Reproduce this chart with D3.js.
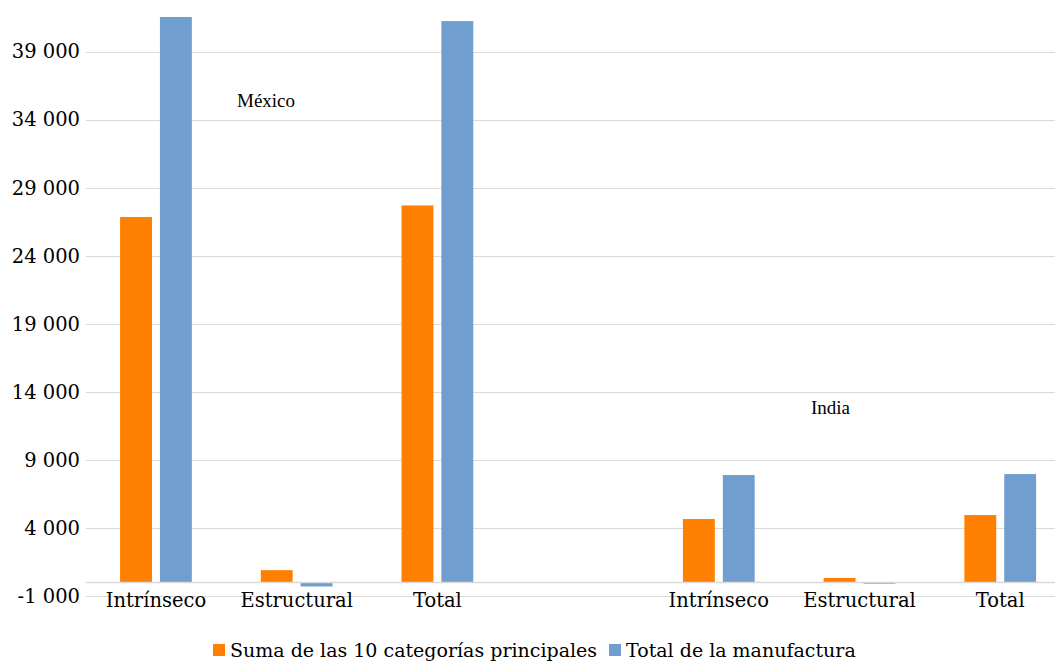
<!DOCTYPE html>
<html>
<head>
<meta charset="utf-8">
<script src="https://cdn.jsdelivr.net/npm/d3@7"></script>
<style>
  body { margin: 0; background: #fff; }
  svg { display: block; }
</style>
</head>
<body>
<div id="chart"></div>
<script>
// categories (the empty slot separates the two countries)
var categories = ["Intrínseco", "Estructural", "Total", "", "Intrínseco", "Estructural", "Total"];
var seriesNames = ["Suma de las 10 categorías principales", "Total de la manufactura"];
var sumaTop10 = [26850, 900, 27700, null, 4660, 330, 4950];
var totalManuf = [41550, -300, 41250, null, 7890, -100, 7960];
var yTicks = [-1000, 4000, 9000, 14000, 19000, 24000, 29000, 34000, 39000];
var countryLabels = ["México", "India"];

var svgWidth = 1055;
var svgHeight = 662;
var colors = ["#ff8000", "#709fcf"];
var serif = "'DejaVu Serif', serif";
var fontSize = "19.5px";

var svg = d3.select("#chart")
  .append("svg")
  .attr("width", svgWidth)
  .attr("height", svgHeight);

// scales
var x0 = d3.scaleBand()
  .domain(d3.range(categories.length))
  .range([85.6, 1070.6])
  .paddingInner(0.49)
  .paddingOuter(0.245);

var x1 = d3.scaleBand()
  .domain([0, 1])
  .range([0, x0.bandwidth()])
  .paddingInner(0.2);

var y = d3.scaleLinear()
  .domain([-1000, 39000])
  .range([596, 51.7]);

// gridlines
svg.append("g")
  .selectAll("line")
  .data(yTicks)
  .enter()
  .append("line")
  .attr("x1", 86)
  .attr("x2", svgWidth)
  .attr("y1", d => Math.round(y(d)) + 0.5)
  .attr("y2", d => Math.round(y(d)) + 0.5)
  .style("stroke", "#d9d9d9")
  .style("stroke-width", 1);

// y axis labels (hyphen minus, space as thousands separator)
var leftAxis = d3.axisLeft(y)
  .tickValues(yTicks)
  .tickSize(0)
  .tickPadding(6)
  .tickFormat(d => (d < 0 ? "-" : "") + d3.format(",")(Math.abs(d)).replace(/,/g, " "));

svg.append("g")
  .attr("transform", "translate(86,0)")
  .call(leftAxis)
  .call(g => g.select(".domain").remove())
  .selectAll("text")
  .style("font-family", serif)
  .style("font-size", fontSize)
  .style("fill", "#000");

// bars
var rows = categories.map((c, i) => ({ i: i, values: [sumaTop10[i], totalManuf[i]] }));

var groups = svg.append("g")
  .selectAll("g")
  .data(rows)
  .enter()
  .append("g")
  .attr("transform", d => `translate(${x0(d.i)},0)`);

groups.selectAll("rect")
  .data(d => d.values.map((v, k) => ({ k: k, v: v })).filter(e => e.v !== null))
  .enter()
  .append("rect")
  .attr("x", d => x1(d.k))
  .attr("width", x1.bandwidth())
  .attr("y", d => y(Math.max(0, d.v)))
  .attr("height", d => Math.abs(y(d.v) - y(0)))
  .attr("fill", d => colors[d.k]);

// zero axis line
svg.append("line")
  .attr("x1", 86)
  .attr("x2", svgWidth)
  .attr("y1", y(0))
  .attr("y2", y(0))
  .style("stroke", "#d9d9d9")
  .style("stroke-width", 1.5);

// category labels
svg.append("g")
  .selectAll("text")
  .data(categories)
  .enter()
  .append("text")
  .attr("x", (d, i) => x0(i) + x0.bandwidth() / 2)
  .attr("y", 607)
  .style("text-anchor", "middle")
  .style("font-family", serif)
  .style("font-size", fontSize)
  .text(d => d);

// country labels
svg.append("text")
  .attr("x", 237)
  .attr("y", 107)
  .style("font-family", "'Liberation Serif', serif")
  .style("font-size", "19px")
  .text(countryLabels[0]);

svg.append("text")
  .attr("x", 811)
  .attr("y", 414)
  .style("font-family", "'Liberation Serif', serif")
  .style("font-size", "19px")
  .text(countryLabels[1]);

// legend
var legendX = [213, 609];
var legend = svg.append("g")
  .selectAll("g")
  .data(seriesNames)
  .enter()
  .append("g")
  .attr("transform", (d, i) => `translate(${legendX[i]},644)`);

legend.append("rect")
  .attr("width", 12)
  .attr("height", 12)
  .attr("fill", (d, i) => colors[i]);

legend.append("text")
  .attr("x", 17)
  .attr("y", 13)
  .style("font-family", serif)
  .style("font-size", "19px")
  .text(d => d);
</script>
</body>
</html>
